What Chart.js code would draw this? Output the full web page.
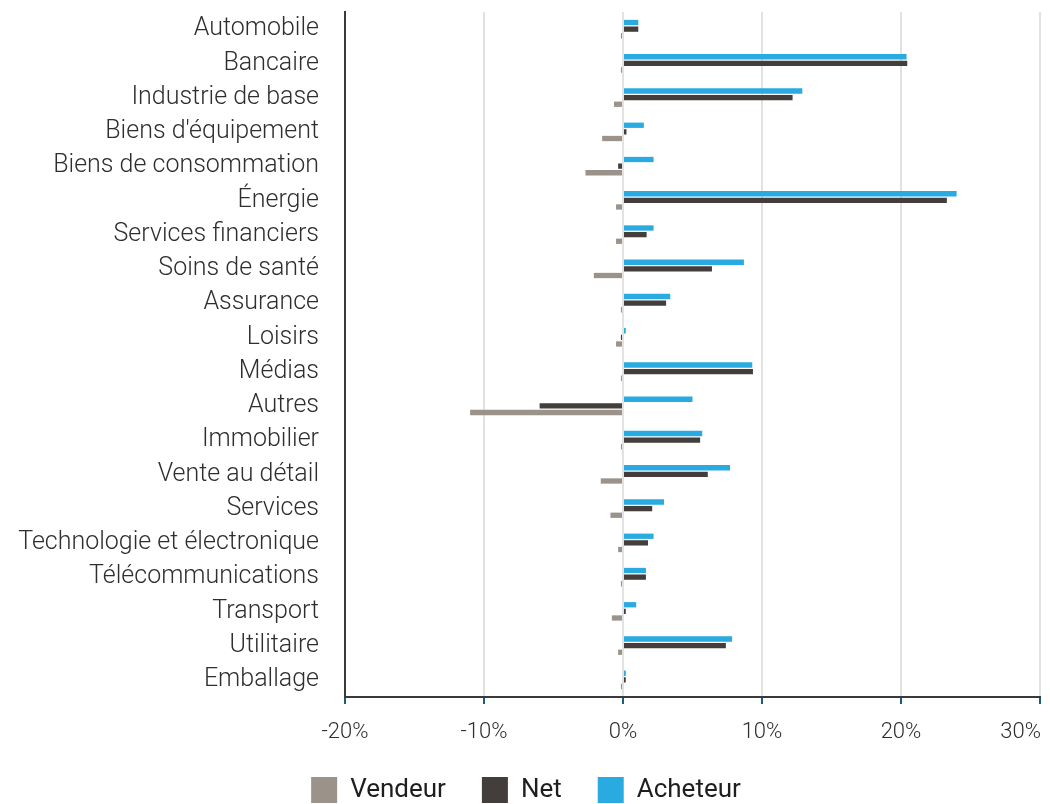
<!DOCTYPE html>
<html>
<head>
<meta charset="utf-8">
<script src="https://cdn.jsdelivr.net/npm/chart.js@4.4.1/dist/chart.umd.min.js"></script>
<style>
  html, body { margin: 0; padding: 0; background: #fff; }
  #wrap { width: 1050px; height: 804px; }
</style>
</head>
<body>
<div id="wrap"><canvas id="sectorChart" width="1050" height="804"></canvas></div>
<script>
const categories = [
  'Automobile', 'Bancaire', 'Industrie de base', "Biens d'équipement",
  'Biens de consommation', 'Énergie', 'Services financiers', 'Soins de santé',
  'Assurance', 'Loisirs', 'Médias', 'Autres', 'Immobilier', 'Vente au détail',
  'Services', 'Technologie et électronique', 'Télécommunications', 'Transport',
  'Utilitaire', 'Emballage'
];

// values in %
const acheteur = [1.1, 20.4, 12.9, 1.5, 2.2, 24.0, 2.2, 8.7, 3.4, 0.2,
  9.3, 5.0, 5.7, 7.7, 2.95, 2.2, 1.65, 0.95, 7.85, 0.2];
const net = [1.1, 20.45, 12.2, 0.25, -0.35, 23.3, 1.7, 6.4, 3.1, -0.15,
  9.35, -6.0, 5.55, 6.1, 2.1, 1.8, 1.65, 0.2, 7.4, 0.2];
const vendeur = [-0.15, -0.15, -0.65, -1.5, -2.7, -0.5, -0.5, -2.1, -0.15, -0.5,
  -0.15, -11.0, -0.15, -1.6, -0.9, -0.35, -0.15, -0.8, -0.35, -0.15];

const xTicks = [-20, -10, 0, 10, 20, 30];

const textColor = '#2e2e2e';
const fontFamily = 'Roboto, "Noto Sans", sans-serif';
const tickFont = { family: fontFamily, size: 22, weight: 300 };
const xTickLen = 7;
const xTickPad = 15;

// last tick label sits right-aligned against the plot edge, like the original
const lastTickLabel = {
  id: 'lastTickLabel',
  afterDraw(chart) {
    const x = chart.scales.x;
    const ctx = chart.ctx;
    const last = xTicks[xTicks.length - 1];
    ctx.save();
    ctx.font = '300 22px ' + fontFamily;
    ctx.fillStyle = textColor;
    ctx.textAlign = 'right';
    ctx.textBaseline = 'middle';
    ctx.fillText(last + '%', x.getPixelForValue(last) + 1, x.top + xTickLen + xTickPad + 13.2);
    ctx.restore();
  }
};

new Chart(document.getElementById('sectorChart').getContext('2d'), {
  type: 'bar',
  data: {
    labels: categories,
    datasets: [
      { label: 'Acheteur', data: acheteur, backgroundColor: '#29abe2' },
      { label: 'Net', data: net, backgroundColor: '#433d3b' },
      { label: 'Vendeur', data: vendeur, backgroundColor: '#9b928a' }
    ]
  },
  options: {
    indexAxis: 'y',
    responsive: false,
    animation: false,
    devicePixelRatio: 1,
    categoryPercentage: 0.58,
    barPercentage: 0.8,
    layout: { padding: { top: 12, left: 12, right: 10, bottom: -9 } },
    scales: {
      x: {
        min: -20,
        max: 30,
        afterBuildTicks: (scale) => { scale.ticks = xTicks.map(v => ({ value: v })); },
        afterFit: (scale) => {
          scale.height = 44;
          scale.paddingLeft = 0;
          scale.paddingRight = 0;
        },
        grid: { color: '#e2e2e2', lineWidth: 2, tickColor: '#1d5b7c', tickLength: xTickLen },
        border: { display: true, color: '#3a3a3a', width: 2 },
        ticks: {
          padding: xTickPad,
          color: textColor,
          font: tickFont,
          maxRotation: 0,
          callback: (v) => v === 30 ? '' : v + '%'
        }
      },
      y: {
        afterFit: (scale) => {
          scale.width = 333;
          scale.paddingTop = 0;
          scale.paddingBottom = 0;
        },
        grid: { display: true, drawOnChartArea: false, drawTicks: true, tickLength: 22, tickColor: 'rgba(0,0,0,0)' },
        border: { display: true, color: '#3a3a3a', width: 2 },
        ticks: {
          padding: 4,
          color: textColor,
          font: { family: fontFamily, size: 25, weight: 300 }
        }
      }
    },
    plugins: {
      legend: {
        position: 'bottom',
        reverse: true,
        labels: {
          boxWidth: 26,
          boxHeight: 26,
          padding: 36,
          color: '#1e1e1e',
          font: { family: fontFamily, size: 26 }
        }
      },
      tooltip: { enabled: false }
    }
  },
  plugins: [lastTickLabel]
});
</script>
</body>
</html>
